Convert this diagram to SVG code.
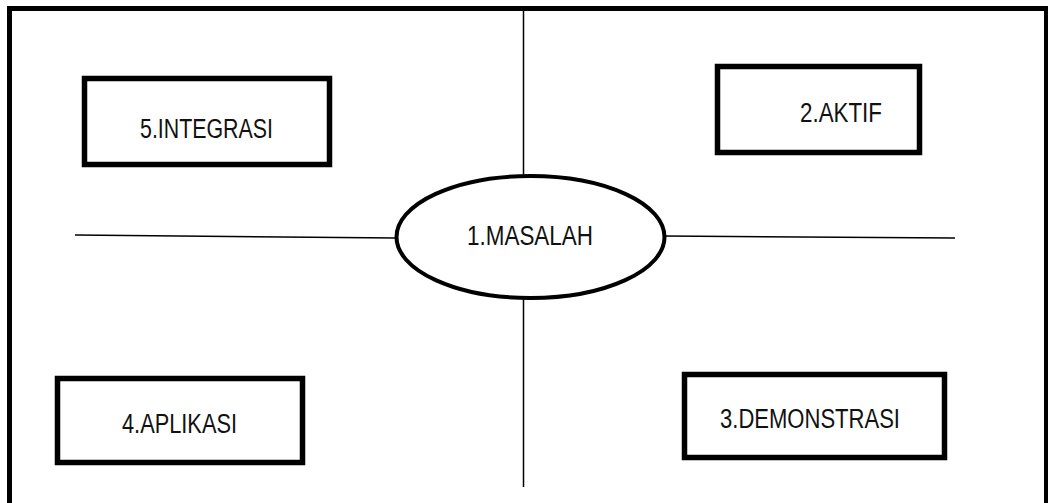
<svg xmlns="http://www.w3.org/2000/svg" width="1048" height="503" viewBox="0 0 1048 503">
<style>
.box{fill:#fff;stroke:#000;stroke-width:5.5}
.ln{fill:none;stroke:#000;stroke-width:1.5}
.t{font-family:"Liberation Sans",Arial,sans-serif;font-size:27px;fill:#111}
</style>
<rect width="1048" height="503" fill="#fff"/>
<path d="M9.5 503 V8.5 H1046.5 V503" fill="none" stroke="#000" stroke-width="5"/>
<g id="connectors">
<line class="ln" x1="523.5" y1="11" x2="523.5" y2="487"/>
<line class="ln" x1="75" y1="235" x2="396" y2="238"/>
<line class="ln" x1="665" y1="236" x2="955" y2="238"/>
</g>
<g id="n1">
<ellipse cx="530.5" cy="237" rx="134" ry="61" fill="#fff" stroke="#000" stroke-width="4"/>
<text class="t" x="467" y="245" textLength="126" lengthAdjust="spacingAndGlyphs">1.MASALAH</text>
</g>
<g id="n5">
<rect class="box" x="84.5" y="78.5" width="245" height="86"/>
<text class="t" x="140" y="138" textLength="133" lengthAdjust="spacingAndGlyphs">5.INTEGRASI</text>
</g>
<g id="n2">
<rect class="box" x="717.5" y="66.5" width="202" height="86"/>
<text class="t" x="800" y="122" textLength="82" lengthAdjust="spacingAndGlyphs">2.AKTIF</text>
</g>
<g id="n4">
<rect class="box" x="57.5" y="378.5" width="245" height="84"/>
<text class="t" x="122" y="433" textLength="115" lengthAdjust="spacingAndGlyphs">4.APLIKASI</text>
</g>
<g id="n3">
<rect class="box" x="684.5" y="374.5" width="260" height="83"/>
<text class="t" x="720" y="428" textLength="180" lengthAdjust="spacingAndGlyphs">3.DEMONSTRASI</text>
</g>
</svg>
